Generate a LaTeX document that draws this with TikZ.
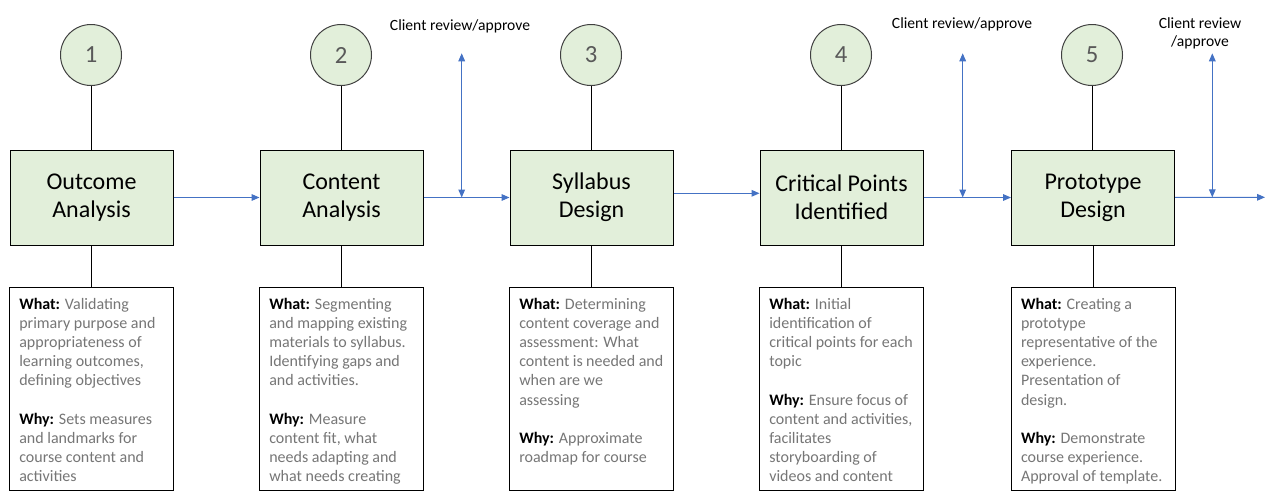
\documentclass[tikz,border=0pt]{standalone}
\usepackage{fontspec}
\setmainfont{Carlito}
\usetikzlibrary{arrows.meta}
\definecolor{stepgreen}{HTML}{E2EFDA}
\definecolor{flowblue}{HTML}{4472C4}
\definecolor{bodygrey}{HTML}{767676}
\definecolor{numgrey}{HTML}{595959}
\definecolor{circline}{HTML}{404040}
\newcommand{\lead}[1]{\textcolor{black}{\textbf{#1}}}
\begin{document}
\begin{tikzpicture}[x=0.75pt,y=-0.75pt,
  numcircle/.style={circle, draw=circline, fill=stepgreen, line width=0.75pt, minimum size=45.75pt, inner sep=0pt, font=\fontsize{18.5}{20}\selectfont, text=numgrey},
  stagebox/.style={rectangle, draw=black, fill=stepgreen, line width=0.75pt, minimum width=122.25pt, minimum height=71.25pt, align=center, font=\fontsize{18}{21}\selectfont, inner sep=0pt},
  notebox/.style={rectangle, draw=black, fill=white, line width=0.75pt, anchor=north, inner xsep=7.5pt, inner ysep=7pt, minimum height=152pt, font=\fontsize{12}{14.4}\selectfont, text=bodygrey},
  link/.style={draw=black, line width=0.75pt},
  flow/.style={draw=flowblue, line width=0.75pt, -{Triangle[length=6pt,width=5pt]}},
  review/.style={draw=flowblue, line width=0.75pt, {Triangle[length=6pt,width=5pt]}-{Triangle[length=6pt,width=5pt]}},
  reviewlabel/.style={font=\fontsize{11.7}{13.7}\selectfont, text=black, align=center, inner sep=0pt}
]
\useasboundingbox (0,0) rectangle (1270,500);

% circles
\node[numcircle] (c1) at (91,55) {1};
\node[numcircle] (c2) at (341,55) {2};
\node[numcircle] (c3) at (591,55) {3};
\node[numcircle] (c4) at (841,55) {4};
\node[numcircle] (c5) at (1092,55) {5};

% stage boxes
\node[stagebox] (b1) at (91.5,197.5) {Outcome\\Analysis};
\node[stagebox] (b2) at (341.5,197.5) {Content\\Analysis};
\node[stagebox] (b3) at (591.5,197.5) {Syllabus\\Design};
\node[stagebox] (b4) at (841.5,197.5) {Critical Points\\Identified};
\node[stagebox] (b5) at (1093,197.5) {Prototype\\Design};

% note boxes
\node[notebox] (t1) at (91.3,287.3) {\parbox[t][137pt][t]{108pt}{\raggedright
\lead{What:} Validating\\ primary purpose and\\ appropriateness of\\ learning outcomes,\\ defining objectives\\[14.4pt]
\lead{Why:} Sets measures\\ and landmarks for\\ course content and\\ activities}};
\node[notebox] (t2) at (341.3,287.3) {\parbox[t][137pt][t]{108pt}{\raggedright
\lead{What:} Segmenting\\ and mapping existing\\ materials to syllabus.\\ Identifying gaps and\\ and activities.\\[14.4pt]
\lead{Why:} Measure\\ content fit, what\\ needs adapting and\\ what needs creating}};
\node[notebox] (t3) at (591.3,287.3) {\parbox[t][137pt][t]{108pt}{\raggedright
\lead{What:} Determining\\ content coverage and\\ assessment: What\\ content is needed and\\ when are we\\ assessing\\[14.4pt]
\lead{Why:} Approximate\\ roadmap for course}};
\node[notebox] (t4) at (841.3,287.3) {\parbox[t][137pt][t]{108pt}{\raggedright
\lead{What:} Initial\\ identification of\\ critical points for each\\ topic\\[14.4pt]
\lead{Why:} Ensure focus of\\ content and activities,\\ facilitates\\ storyboarding of\\ videos and content}};
\node[notebox] (t5) at (1093,287.3) {\parbox[t][137pt][t]{108pt}{\raggedright
\lead{What:} Creating a\\ prototype\\ representative of the\\ experience.\\ Presentation of\\ design.\\[14.4pt]
\lead{Why:} Demonstrate\\ course experience.\\ Approval of template.}};

% vertical black links
\foreach \i in {1,...,5}{
  \draw[link] (c\i.south) -- (c\i.south |- b\i.north);
  \draw[link] (b\i.south) -- (b\i.south |- t\i.north);
}

% flow arrows
\coordinate (out) at (1265,197.3);
\draw[flow] (b1) -- (b2);
\draw[flow] (b2) -- (b3);
\draw[flow] (b3.east |- 0,193.3) -- (b4.west |- 0,193.3);
\draw[flow] (b4) -- (b5);
\draw[flow] (b5) -- (out);

% review arrows
\coordinate (r1top) at (461.7,53.3);
\coordinate (r1bot) at (461.7,197.5);
\coordinate (r2top) at (962.7,53.3);
\coordinate (r2bot) at (962.7,197.5);
\coordinate (r3top) at (1212.3,53.3);
\coordinate (r3bot) at (1212.3,197.3);
\draw[review] (r1top) -- (r1bot);
\draw[review] (r2top) -- (r2bot);
\draw[review] (r3top) -- (r3bot);

\node[reviewlabel, anchor=base] (l1) at (460,30) {Client review/approve};
\node[reviewlabel, anchor=base] (l2) at (962,28.3) {Client review/approve};
\node[reviewlabel] (l3) at (1200,33) {Client review\\/approve};
\end{tikzpicture}
\end{document}
